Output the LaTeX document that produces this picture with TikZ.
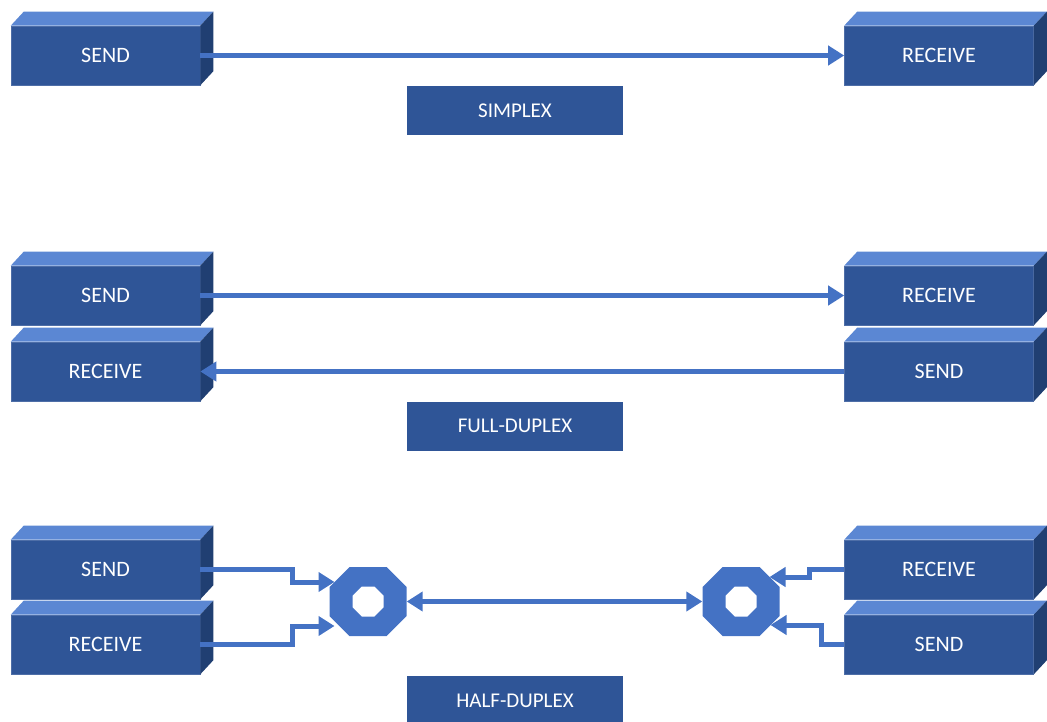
\documentclass[tikz,border=0pt]{standalone}
\usepackage{fontspec}
\setmainfont{Carlito}
\usetikzlibrary{arrows.meta}
\definecolor{frontc}{HTML}{2F5597}
\definecolor{topc}{HTML}{5B87D3}
\definecolor{sidec}{HTML}{203F72}
\definecolor{linec}{HTML}{4472C4}
\newcommand\cubeparts[1]{%
  \fill[topc] (#1.north west) -- ([xshift=13pt,yshift=14pt]#1.north west) -- ([xshift=13pt,yshift=14pt]#1.north east) -- (#1.north east) -- cycle;
  \fill[sidec] (#1.north east) -- ([xshift=13pt,yshift=14pt]#1.north east) -- ([xshift=13pt,yshift=14pt]#1.south east) -- (#1.south east) -- cycle;}
\newcommand\octshape[1]{%
  \begin{scope}[shift={(#1.center)}]
    \fill[linec, even odd rule] (-18.5,-34.5) -- (18.5,-34.5) -- (38.5,-14.5) -- (38.5,14.5) -- (18.5,34.5) -- (-18.5,34.5) -- (-38.5,14.5) -- (-38.5,-14.5) -- cycle
      (-6.5,-15) -- (6.5,-15) -- (15.5,-6) -- (15.5,6) -- (6.5,15) -- (-6.5,15) -- (-15.5,6) -- (-15.5,-6) -- cycle;
  \end{scope}}
\begin{document}
\begin{tikzpicture}[x=1pt,y=-1pt,
  box/.style={fill=frontc, draw=frontc!85!white, line width=0.6pt, minimum width=189pt, minimum height=59pt, inner sep=0pt, text=white, font=\fontsize{22}{26}\selectfont},
  lbl/.style={fill=frontc, minimum width=216pt, minimum height=49pt, inner sep=0pt, text=white, font=\fontsize{21}{25}\selectfont},
  oct/.style={minimum width=77pt, minimum height=69pt, inner sep=0pt},
  conn/.style={draw=linec, line width=5pt, -{Triangle[length=16pt,width=19pt]}},
  conn2/.style={draw=linec, line width=5pt, {Triangle[length=16pt,width=19pt]}-{Triangle[length=16pt,width=19pt]}}]
\useasboundingbox (0,0) rectangle (1047,722);
% Simplex
\node[box] (s1) at (105.5,55.5) {SEND};
\node[box] (r1) at (939,55.5) {RECEIVE};
\cubeparts{s1}\cubeparts{r1}
\node[lbl] (simplex) at (515,110.5) {SIMPLEX};
\draw[conn] (s1.east) -- (r1.west);
% Full duplex
\node[box] (s2) at (105.5,295.5) {SEND};
\node[box] (l2) at (105.5,371.5) {RECEIVE};
\node[box] (r2) at (939,295.5) {RECEIVE};
\node[box] (t2) at (939,371.5) {SEND};
\cubeparts{s2}\cubeparts{l2}\cubeparts{r2}\cubeparts{t2}
\node[lbl] (full) at (515,426) {FULL-DUPLEX};
\draw[conn] (s2.east) -- (r2.west);
\draw[conn] (t2.west) -- (l2.east);
% Half duplex
\node[box] (s3) at (105.5,569.5) {SEND};
\node[box] (l3) at (105.5,644.5) {RECEIVE};
\node[box] (r3) at (939,569.5) {RECEIVE};
\node[box] (t3) at (939,644.5) {SEND};
\cubeparts{s3}\cubeparts{l3}\cubeparts{r3}\cubeparts{t3}
\node[lbl] (half) at (515,700.5) {HALF-DUPLEX};
\node[oct] (o1) at (368,601.5) {};
\node[oct] (o2) at (741,601.5) {};
\octshape{o1}\octshape{o2}
\coordinate (o1a) at ([shift={(-33.5,-19.5)}]o1.center);
\coordinate (o1b) at ([shift={(-33.5,24.5)}]o1.center);
\coordinate (o2a) at ([shift={(28.5,-24.5)}]o2.center);
\coordinate (o2b) at ([shift={(29.5,23.5)}]o2.center);
\draw[conn] (s3.east) -- ++(92,0) |- (o1a);
\draw[conn] (l3.east) -- ++(92,0) |- (o1b);
\draw[conn] (r3.west) -- ++(-35,0) |- (o2a);
\draw[conn] (t3.west) -- ++(-23,0) |- (o2b);
\draw[conn2] (o1.east) -- (o2.west);
\end{tikzpicture}
\end{document}
